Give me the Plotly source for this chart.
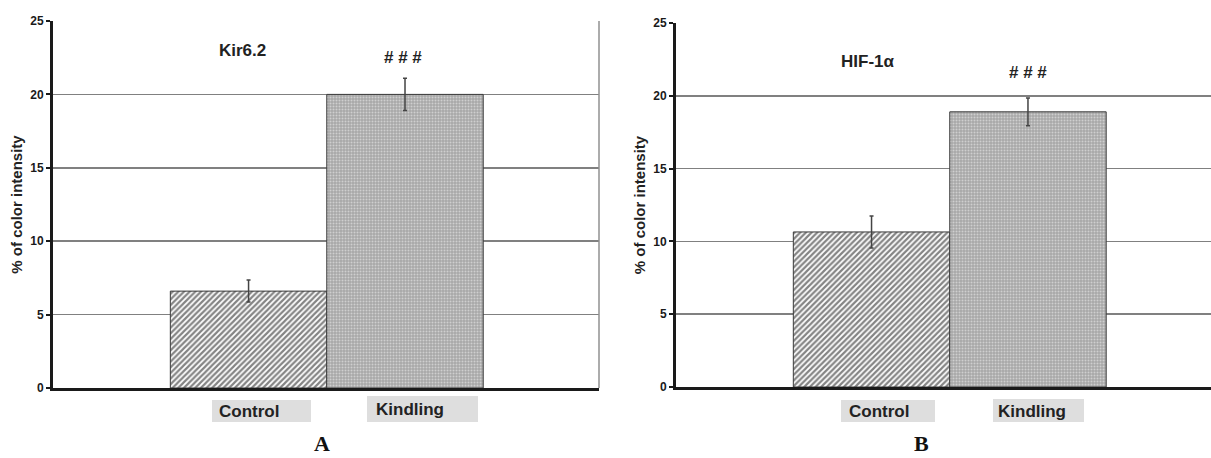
import plotly.graph_objects as go

categories = ["Control", "Kindling"]
kir_values = [6.6, 20.0]
kir_err = [0.75, 1.1]
hif_values = [10.65, 18.9]
hif_err = [1.1, 0.95]
y_ticks = [0, 5, 10, 15, 20, 25]

W, H = 1211, 458

def fx(px):
    return px / W

def fy(py):
    return 1 - py / H

fig = go.Figure()

patterns = [
    dict(shape="/", fgcolor="#0a0a0a", bgcolor="#ffffff", size=4, solidity=0.55),
    dict(shape=".", fgcolor="#f6f6f6", bgcolor="#a8a8a8", size=3, solidity=0.35),
]

for vals, errs, xa, ya in [(kir_values, kir_err, "x", "y"), (hif_values, hif_err, "x2", "y2")]:
    for i, cat in enumerate(categories):
        fig.add_trace(go.Bar(
            x=[i], y=[vals[i]], xaxis=xa, yaxis=ya, width=1.0,
            marker=dict(color="#ffffff", pattern=patterns[i],
                        line=dict(color="#3a3a3a", width=1)),
            error_y=dict(type="data", array=[errs[i]], visible=True,
                         color="#444444", thickness=1.5, width=2),
            showlegend=False, hoverinfo="skip",
        ))

axis_common = dict(
    range=[0, 25], tickvals=y_ticks, showgrid=True, gridcolor="#808080", gridwidth=1.5,
    showline=True, linecolor="#1a1a1a", linewidth=3, ticks="outside", ticklen=4,
    tickwidth=2, tickcolor="#1a1a1a", zeroline=False, automargin=False,
    tickfont=dict(family="Liberation Sans, Arial", size=12, color="#1a1a1a", weight="bold"),
)
title_font = dict(family="Liberation Sans, Arial", size=15, color="#222222")

fig.update_layout(
    width=W, height=H, margin=dict(l=0, r=0, t=0, b=0, autoexpand=False),
    paper_bgcolor="white", plot_bgcolor="white", bargap=0,
    xaxis=dict(domain=[fx(53), fx(599)], range=[-1.25, 2.24], showticklabels=False,
               showgrid=False, zeroline=False, showline=True, linecolor="#1a1a1a",
               linewidth=3, anchor="y", automargin=False),
    yaxis=dict(domain=[fy(388), fy(21)], anchor="x",
               title=dict(text="<b>% of color intensity</b>", font=title_font, standoff=4),
               **axis_common),
    xaxis2=dict(domain=[fx(676), 1.0], range=[-1.25, 2.17], showticklabels=False,
                showgrid=False, zeroline=False, showline=True, linecolor="#1a1a1a",
                linewidth=3, anchor="y2", automargin=False),
    yaxis2=dict(domain=[fy(387), fy(23)], anchor="x2",
                title=dict(text="<b>% of color intensity</b>", font=title_font, standoff=4),
                **axis_common),
)

# right border of panel A
fig.add_shape(type="line", xref="x domain", yref="y domain", x0=1, x1=1, y0=0, y1=1,
              line=dict(color="#909090", width=1.5))

lab_font = dict(family="Liberation Sans, Arial", size=17, color="#222222")
# category label boxes
for (x0, x1, y0, y1, txt, tx) in [
    (212, 311, 400, 422, "Control", 249),
    (367, 478, 396, 422, "Kindling", 410),
    (841, 935, 400, 422, "Control", 879),
    (993, 1084, 399, 422, "Kindling", 1032),
]:
    fig.add_shape(type="rect", xref="paper", yref="paper", x0=fx(x0), x1=fx(x1),
                  y0=fy(y1), y1=fy(y0), fillcolor="#dedede", line=dict(width=0), layer="below")
    fig.add_annotation(text="<b>" + txt + "</b>", xref="paper", yref="paper",
                       x=fx(tx), y=fy((y0 + y1) / 2 + 0.5), showarrow=False,
                       font=lab_font, xanchor="center", yanchor="middle")

# panel titles and significance marks
for txt, x, y, size in [
    ("<b>Kir6.2</b>", 242, 51, 17),
    ("<b># # #</b>", 403, 58, 17),
    ("<b>HIF-1α</b>", 868, 62, 17),
    ("<b># # #</b>", 1028, 72, 17),
]:
    fig.add_annotation(text=txt, xref="paper", yref="paper", x=fx(x), y=fy(y),
                       showarrow=False, xanchor="center", yanchor="middle",
                       font=dict(family="Liberation Sans, Arial", size=size, color="#222222"))

for txt, x in [("A", 322), ("B", 921)]:
    fig.add_annotation(text="<b>" + txt + "</b>", xref="paper", yref="paper", x=fx(x), y=fy(443),
                       showarrow=False, xanchor="center", yanchor="middle",
                       font=dict(family="Liberation Serif, Times New Roman", size=22, color="#111111"))

fig.write_html("out.html", config={"displayModeBar": False, "staticPlot": True},
               post_script="document.body.style.margin='0';document.body.style.overflow='hidden';")
